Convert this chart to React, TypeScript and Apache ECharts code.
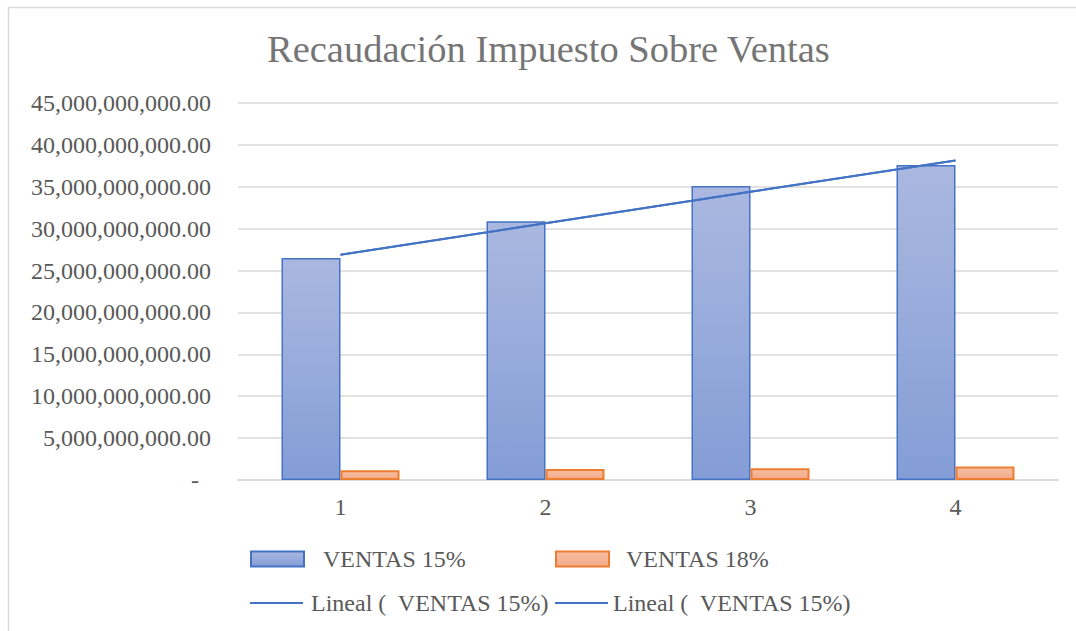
import React, { useEffect, useRef } from "react";
import * as echarts from "echarts";

const categories = ["1", "2", "3", "4"];
const ventas15 = [26.5e9, 30.9e9, 35.1e9, 37.6e9];
const ventas18 = [1.15e9, 1.3e9, 1.4e9, 1.6e9];
const yTicks = { min: 0, max: 45e9, interval: 5e9 };
const titleText = "Recaudación Impuesto Sobre Ventas";
const name15 = "VENTAS 15%";
const name18 = "VENTAS 18%";
const trendName = "Lineal (  VENTAS 15%)";

// Excel-style linear trendline computed from the bar data
function linearTrend(values: number[]): number[] {
  const n = values.length;
  const xs = values.map((_, i) => i + 1);
  const mx = xs.reduce((a, b) => a + b, 0) / n;
  const my = values.reduce((a, b) => a + b, 0) / n;
  let sxy = 0, sxx = 0;
  for (let i = 0; i < n; i++) {
    sxy += (xs[i] - mx) * (values[i] - my);
    sxx += (xs[i] - mx) * (xs[i] - mx);
  }
  const slope = sxy / sxx;
  return xs.map((x) => my + slope * (x - mx));
}

const FONT = "Liberation Serif";
const GRAY = "#595959";
const FS = 24;

export default function App() {
  const ref = useRef<HTMLDivElement>(null);
  useEffect(() => {
    if (!ref.current) return;
    const chart = echarts.init(ref.current, null, { renderer: "svg" });
    const trend = linearTrend(ventas15);
    const blueFill = new echarts.graphic.LinearGradient(0, 0, 0, 1, [
      { offset: 0, color: "#aab8e0" },
      { offset: 1, color: "#849dd6" },
    ]);
    const orangeFill = new echarts.graphic.LinearGradient(0, 0, 0, 1, [
      { offset: 0, color: "#f7bea3" },
      { offset: 1, color: "#f3aa88" },
    ]);
    const legendBase = {
      itemWidth: 53,
      itemHeight: 15,
      textStyle: { fontFamily: FONT, fontSize: FS, color: GRAY },
      selectedMode: false,
      padding: 0,
    };
    chart.setOption({
      animation: false,
      textStyle: { fontFamily: FONT },
      graphic: [
        {
          type: "rect",
          shape: { x: 8.5, y: 7.5, width: 1200, height: 700 },
          style: { fill: "none", stroke: "#d9d9d9", lineWidth: 1.5 },
          silent: true,
          z: -10,
        },
      ],
      title: {
        text: titleText,
        left: 267,
        top: 29,
        padding: 0,
        textStyle: { fontFamily: FONT, fontSize: 38.5, fontWeight: "normal", color: "#757575" },
      },
      grid: { left: 238, right: 18, top: 103, bottom: 151, containLabel: false },
      xAxis: {
        type: "category",
        data: categories,
        axisLine: { lineStyle: { color: "#d9d9d9", width: 1.5 } },
        axisTick: { show: false },
        axisLabel: { fontFamily: FONT, fontSize: FS, color: GRAY, margin: 15 },
      },
      yAxis: {
        type: "value",
        min: yTicks.min,
        max: yTicks.max,
        interval: yTicks.interval,
        axisLine: { show: false },
        axisTick: { show: false },
        splitLine: { lineStyle: { color: "#d9d9d9", width: 1.5 } },
        axisLabel: {
          margin: 27,
          fontFamily: FONT,
          fontSize: FS,
          color: GRAY,
          formatter: (v: number) =>
            v === 0
              ? "{d|-}"
              : v.toLocaleString("en-US", { minimumFractionDigits: 2, maximumFractionDigits: 2 }),
          rich: { d: { fontFamily: FONT, fontSize: FS, color: GRAY, padding: [0, 12, 0, 0] } },
        },
      },
      legend: [
        {
          ...legendBase,
          left: 250,
          top: 547,
          data: [{ name: name15, icon: "rect" }],
          textStyle: { ...legendBase.textStyle, padding: [0, 0, 0, 14] },
        },
        {
          ...legendBase,
          left: 555,
          top: 547,
          data: [{ name: name18, icon: "rect" }],
          textStyle: { ...legendBase.textStyle, padding: [0, 0, 0, 12] },
        },
        {
          ...legendBase,
          itemHeight: 2,
          left: 250,
          top: 591,
          data: [{ name: "trend1", icon: "rect" }],
          formatter: () => trendName,
          textStyle: { ...legendBase.textStyle, padding: [0, 0, 0, 3] },
        },
        {
          ...legendBase,
          itemHeight: 2,
          left: 555,
          top: 591,
          data: [{ name: "trend2", icon: "rect" }],
          formatter: () => trendName,
        },
      ],
      series: [
        {
          name: name15,
          type: "bar",
          data: ventas15,
          barWidth: 59,
          barGap: "0%",
          itemStyle: { color: blueFill, borderColor: "#4472c4", borderWidth: 1.5 },
        },
        {
          name: name18,
          type: "bar",
          data: ventas18,
          barWidth: 59,
          barGap: "0%",
          itemStyle: { color: orangeFill, borderColor: "#ed7d31", borderWidth: 2 },
        },
        {
          name: "trend1",
          type: "line",
          data: trend,
          showSymbol: false,
          symbol: "none",
          lineStyle: { color: "#4472c4", width: 2 },
          itemStyle: { color: "#4472c4" },
          z: 5,
        },
        {
          name: "trend2",
          type: "line",
          data: trend,
          showSymbol: false,
          symbol: "none",
          lineStyle: { color: "#4472c4", width: 2 },
          itemStyle: { color: "#4472c4" },
          z: 5,
        },
      ],
    });
    return () => chart.dispose();
  }, []);
  return (
    <div
      ref={ref}
      style={{ position: "absolute", left: 0, top: 0, width: 1076, height: 631, background: "#fff" }}
    />
  );
}
